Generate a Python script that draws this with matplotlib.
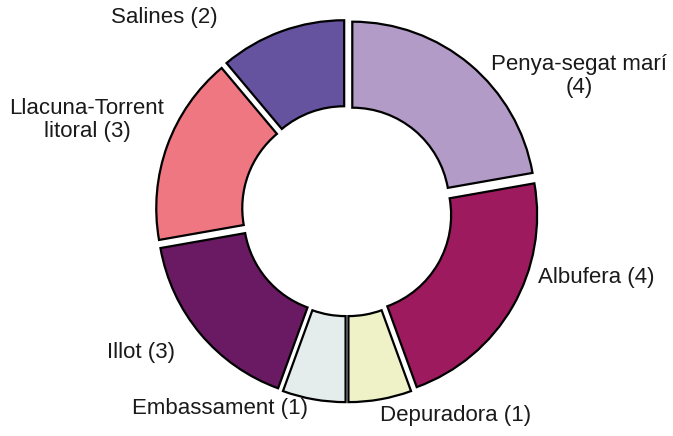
"""Donut chart of habitat counts."""

import matplotlib
matplotlib.use("Agg")
from matplotlib import pyplot as plt

labels = [
	"Penya-segat marí\n(4)",
	"Albufera (4)",
	"Depuradora (1)",
	"Embassament (1)",
	"Illot (3)",
	"Llacuna-Torrent\nlitoral (3)",
	"Salines (2)",
]
counts = [4, 4, 1, 1, 3, 3, 2]
colors = ["#B39BC8", "#9E1A5E", "#EEF2C6", "#E4EDEC", "#6A1A63", "#EE7782", "#6653A0"]

# label anchor positions in figure pixels (x from left, y from top)
label_pos = [(579, 76), (596, 277), (456, 415), (220, 408), (141, 352), (87, 120), (164, 18)]

W, H = 673, 436
CX, CY = 347, 211  # donut centre in pixels
R = 183.0

plt.rcParams["font.family"] = ["Liberation Sans", "DejaVu Sans"]

fig = plt.figure(figsize=(W / 100, H / 100), dpi=100)
ax = fig.add_axes([0, 0, 1, 1])

ax.pie(
	counts,
	colors=colors,
	startangle=90,
	counterclock=False,
	explode=[0.045] * len(counts),
	radius=1.0,
	wedgeprops=dict(width=0.47, edgecolor="black", linewidth=1.6),
)
# pie resets the limits, so set them afterwards
ax.set_xlim(-CX / R, (W - CX) / R)
ax.set_ylim(-(H - CY) / R, CY / R)
ax.set_aspect("equal")
ax.axis("off")

for text, (px, py) in zip(labels, label_pos):
	fig.text(px / W, 1 - py / H, text, ha="center", va="center",
		fontsize=16, color="#1a1a1a", linespacing=1.1)

fig.savefig("out.png", dpi=100, facecolor="white")
